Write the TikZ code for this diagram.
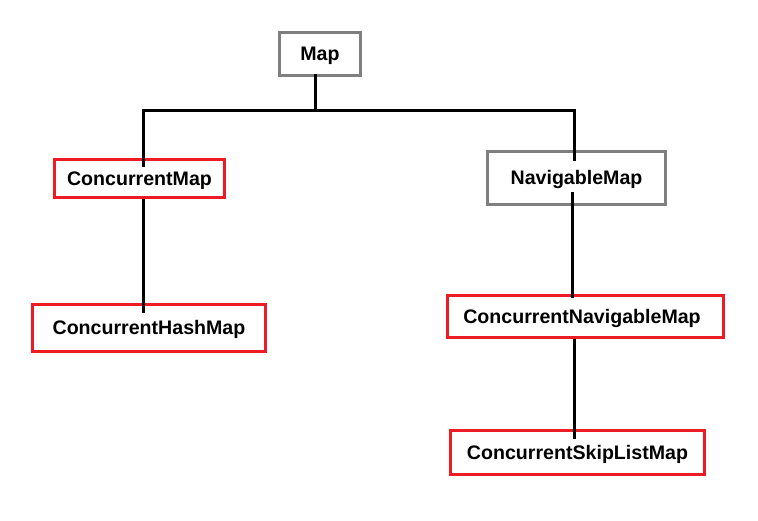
\documentclass[tikz,border=0pt]{standalone}
\usepackage{fontspec}
\setmainfont{Liberation Sans}
\definecolor{boxred}{RGB}{237,28,36}
\definecolor{boxgray}{RGB}{127,127,127}
\begin{document}
\begin{tikzpicture}[x=1pt,y=-1pt,
  cls/.style={draw,line width=3pt,inner sep=0pt,
    font=\fontsize{19.6}{22}\selectfont\bfseries,
    text height=14pt,text depth=0pt},
  redbox/.style={cls,draw=boxred},
  graybox/.style={cls,draw=boxgray},
  link/.style={line width=3pt,black}]
\useasboundingbox (0,0) rectangle (758,521);
\node[graybox,minimum width=81pt,minimum height=43pt] (map) at (320,54) {Map};
\node[redbox,minimum width=170pt,minimum height=38pt] (cm) at (139.5,178.5) {ConcurrentMap};
\node[redbox,minimum width=233pt,minimum height=47pt] (chm) at (149,328) {ConcurrentHashMap};
\node[graybox,minimum width=178pt,minimum height=53pt] (nm) at (576.5,178) {NavigableMap};
\node[redbox,minimum width=276pt,minimum height=42pt] (cnm) at (585.5,316.5) {ConcurrentNavigableMap\hspace*{7pt}};
\node[redbox,minimum width=254pt,minimum height=44pt] (csl) at (577.5,452.5) {ConcurrentSkipListMap};
\coordinate (j) at (315,111);
\coordinate (jl) at (143,111);
\coordinate (jr) at (574,111);
\coordinate (xm) at (572,0);
\draw[link] ([yshift=3pt]map.south -| j) -- (j);
\draw[link] ([yshift=-9pt]cm.north -| jl) -- (jl) -- (jr) -- ([yshift=-11pt]nm.north -| jr);
\draw[link] (cm.south -| jl) -- ([yshift=-10pt]chm.north -| jl);
\draw[link] ([yshift=14pt]nm.south -| xm) -- ([yshift=-4pt]cnm.north -| xm);
\draw[link] (cnm.south -| jr) -- ([yshift=-10pt]csl.north -| jr);
\end{tikzpicture}
\end{document}
